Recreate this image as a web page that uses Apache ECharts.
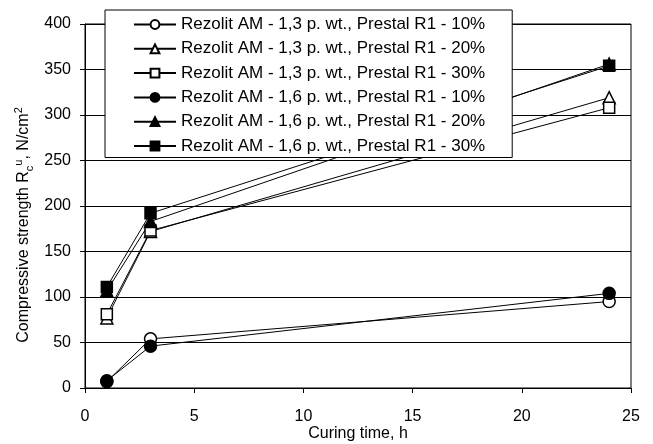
<!DOCTYPE html>
<html>
<head>
<meta charset="utf-8">
<script src="https://cdn.jsdelivr.net/npm/echarts@6/dist/echarts.min.js"></script>
<style>
  html, body { margin: 0; padding: 0; background: #fff; }
  #chart { width: 653px; height: 444px; }
</style>
</head>
<body>
<div id="chart"></div>
<script>
// curing time, h
var hours = [1, 3, 24];

// compressive strength, N/cm2
var am13_r10 = [7, 54, 95];
var am13_r20 = [77, 172, 319];
var am13_r30 = [81, 173, 308];
var am16_r10 = [8, 46, 104];
var am16_r20 = [107, 183, 356];
var am16_r30 = [111, 192, 354];

var names = [
    'Rezolit AM - 1,3 p. wt., Prestal R1 - 10%',
    'Rezolit AM - 1,3 p. wt., Prestal R1 - 20%',
    'Rezolit AM - 1,3 p. wt., Prestal R1 - 30%',
    'Rezolit AM - 1,6 p. wt., Prestal R1 - 10%',
    'Rezolit AM - 1,6 p. wt., Prestal R1 - 20%',
    'Rezolit AM - 1,6 p. wt., Prestal R1 - 30%'
];
var values = [am13_r10, am13_r20, am13_r30, am16_r10, am16_r20, am16_r30];
var symbols = ['circle', 'triangle', 'rect', 'circle', 'triangle', 'rect'];
var filled = [false, false, false, true, true, true];

var font = 'Liberation Sans, Arial, sans-serif';

var chart = echarts.init(document.getElementById('chart'));

var series = names.map(function (name, i) {
    return {
        name: name,
        type: 'line',
        data: hours.map(function (h, j) { return [h, values[i][j]]; }),
        symbol: symbols[i],
        symbolSize: symbols[i] === 'rect' ? 11 : 12,
        showAllSymbol: true,
        animation: false,
        lineStyle: { color: '#000', width: 1 },
        itemStyle: {
            color: filled[i] ? '#000' : '#fff',
            borderColor: '#000',
            borderWidth: 1.5
        },
        emphasis: { disabled: true }
    };
});

chart.setOption({
    animation: false,
    textStyle: { fontFamily: font },
    grid: {
        left: 85, right: 22, top: 24, bottom: 56,
        show: true, borderColor: '#000', borderWidth: 1,
        containLabel: false,
        outerBoundsMode: 'none'
    },
    legend: {
        orient: 'vertical',
        left: 105,
        top: 10,
        padding: [6, 27, 3, 28],
        itemWidth: 42,
        itemHeight: 11,
        itemGap: 7.3,
        align: 'left',
        backgroundColor: '#fff',
        borderColor: '#000',
        borderWidth: 1,
        textStyle: { fontSize: 17, color: '#000', fontFamily: font, lineHeight: 16 },
        data: names
    },
    xAxis: {
        type: 'value',
        min: 0, max: 25, interval: 5,
        name: 'Curing time, h',
        nameLocation: 'middle',
        nameGap: 38,
        nameMoveOverlap: false,
        nameTextStyle: { fontSize: 16, color: '#000', fontFamily: font },
        axisLine: { lineStyle: { color: '#000', width: 1 } },
        axisTick: { show: true, inside: false, length: 5, lineStyle: { color: '#000' } },
        axisLabel: { fontSize: 16, color: '#000', margin: 21, fontFamily: font },
        splitLine: { show: false }
    },
    yAxis: {
        type: 'value',
        min: 0, max: 400, interval: 50,
        name: 'Compressive strength R{sub|c}{sup|u}, N/cm{sup|2}',
        nameLocation: 'middle',
        nameGap: 50,
        nameMoveOverlap: false,
        nameTextStyle: {
            fontSize: 16, color: '#000', fontFamily: font, lineHeight: 22,
            padding: [0, 38, 0, 0],
            rich: {
                sub: { fontSize: 11, lineHeight: 11, verticalAlign: 'bottom', color: '#000', fontFamily: font },
                sup: { fontSize: 11, lineHeight: 11, verticalAlign: 'top', color: '#000', fontFamily: font }
            }
        },
        axisLine: { show: true, lineStyle: { color: '#000', width: 1 } },
        axisTick: { show: true, inside: false, length: 5, lineStyle: { color: '#000' } },
        axisLabel: { fontSize: 16, color: '#000', margin: 14, fontFamily: font },
        splitLine: { show: true, lineStyle: { color: '#000', width: 1 } }
    },
    series: series
});
</script>
</body>
</html>
